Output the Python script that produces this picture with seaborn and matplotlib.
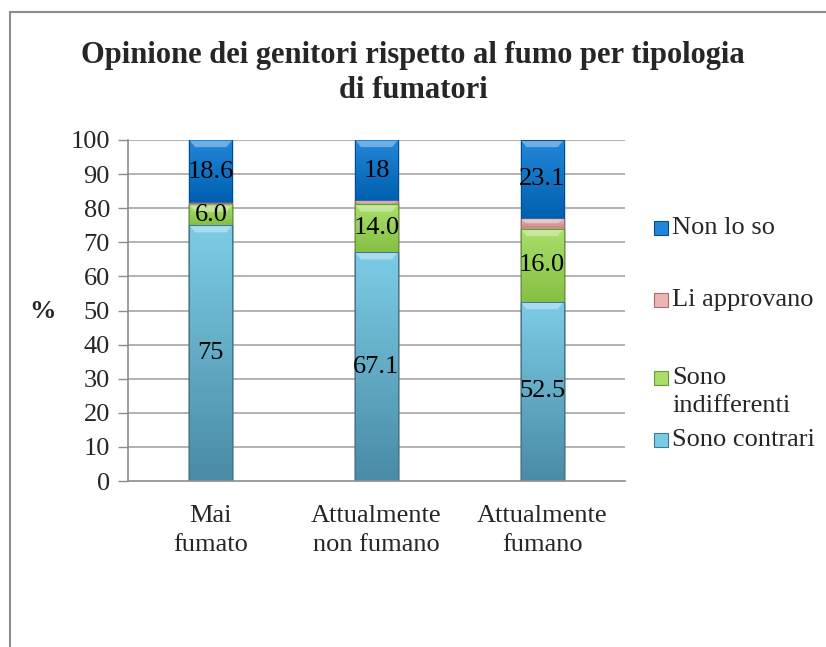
import numpy as np
import seaborn as sns
import matplotlib.pyplot as plt
from matplotlib.colors import LinearSegmentedColormap
from matplotlib.patches import Rectangle, Polygon
from matplotlib.lines import Line2D

# dati
categorie = ["Mai\nfumato", "Attualmente\nnon fumano", "Attualmente\nfumano"]
serie = ["Sono contrari", "Sono indifferenti", "Li approvano", "Non lo so"]
contrari = [75, 67.1, 52.5]
indifferenti = [6.0, 14.0, 21.4]
approvano = [0.4, 0.9, 3.0]
non_lo_so = [18.6, 18.0, 23.1]
# etichette come stampate sul grafico
etich_contrari = ["75", "67.1", "52.5"]
etich_indifferenti = ["6.0", "14.0", "16.0"]
etich_approvano = ["", "", ""]
etich_non_lo_so = ["18.6", "18", "23.1"]
yticks = list(range(0, 101, 10))

valori = [contrari, indifferenti, approvano, non_lo_so]
etichette = [etich_contrari, etich_indifferenti, etich_approvano, etich_non_lo_so]
base = ["#5fa9c6", "#96cf52", "#d49a98", "#0a6cc2"]
top_c = ["#7ccbe6", "#a8de6a", "#e8b6b4", "#2286d8"]
bot_c = ["#4a8ca6", "#86c043", "#c98886", "#0060b0"]
edge = ["#3f7890", "#6c9a33", "#a86e6c", "#004c8c"]

sns.set_theme(style="white")
plt.rcParams['font.family'] = ['Liberation Serif', 'DejaVu Serif']

W, H = 826, 647
FS = 19
fig = plt.figure(figsize=(W / 100, H / 100), dpi=100)
ax = fig.add_axes([128 / W, 1 - 481 / H, (625 - 128) / W, (481 - 140) / H])

# somme cumulate per impilare
bottoms, tops = [], []
cum = np.zeros(len(categorie))
for v in valori:
    bottoms.append(cum.copy())
    cum = cum + np.array(v)
    tops.append(cum.copy())

larg = 0.26
for i in reversed(range(len(serie))):
    sns.barplot(x=categorie, y=tops[i], color=base[i], width=larg, ax=ax,
                saturation=1, edgecolor=edge[i], linewidth=1.0, zorder=2)

# sfumatura e smusso stile Excel
for i in range(len(serie)):
    cmap = LinearSegmentedColormap.from_list("g%d" % i, [bot_c[i], top_c[i]])
    grad = np.linspace(0, 1, 64)[:, None]
    for j in range(len(categorie)):
        y0, y1 = bottoms[i][j], tops[i][j]
        if y1 - y0 < 0.8:
            continue
        x0, x1 = j - larg / 2 + 0.006, j + larg / 2 - 0.006
        ax.imshow(grad, extent=(x0, x1, y0 + 0.3, y1 - 0.3), origin="lower",
                  cmap=cmap, aspect="auto", zorder=3)
        h = min(1.8, (y1 - y0) / 3)
        d = 0.03
        ax.add_patch(Polygon([(x0, y1 - 0.3), (x1, y1 - 0.3), (x1 - d, y1 - 0.3 - h),
                              (x0 + d, y1 - 0.3 - h)], closed=True,
                             facecolor="white", alpha=0.35, lw=0, zorder=4))
        testo = etichette[i][j]
        if testo:
            ax.text(j, (y0 + y1) / 2, testo, ha="center", va="center",
                    fontsize=FS, color="black", zorder=5)

ax.set_xlim(-0.5, 2.5)
ax.set_ylim(0, 100)
ax.set_yticks(yticks)
ax.set_yticklabels([str(t) for t in yticks], fontsize=FS)
ax.set_xticks(range(len(categorie)))
ax.set_xticklabels(categorie, fontsize=FS, linespacing=1.45)
ax.tick_params(axis="y", direction="out", length=7, width=1, color="#8c8c8c", pad=6,
               left=True)
ax.tick_params(axis="x", length=0, pad=17)
for t in yticks[1:]:
    ax.axhline(t, color="#a6a6a6", lw=1.2, zorder=1)
for s in ["top", "right"]:
    ax.spines[s].set_visible(False)
for s in ["left", "bottom"]:
    ax.spines[s].set_color("#8c8c8c")
    ax.spines[s].set_linewidth(1.2)
ax.set_xlabel("")
ax.set_ylabel("")

# bordo dell'area grafico
fig.add_artist(Line2D([10 / W, 10 / W], [0, 1 - 12 / H], color="#8c8c8c", lw=1.5))
fig.add_artist(Line2D([10 / W, 1], [1 - 12 / H, 1 - 12 / H], color="#8c8c8c", lw=1.5))

fig.text(413 / W, 1 - 73 / H, "Opinione dei genitori rispetto al fumo per tipologia\ndi fumatori",
         ha="center", va="center", fontsize=22, fontweight="bold", linespacing=1.3)
fig.text(42 / W, 1 - 312 / H, "%", ha="center", va="center", fontsize=FS, fontweight="bold")

# legenda manuale
leg_y = {"Non lo so": 228, "Li approvano": 300, "Sono indifferenti": 378, "Sono contrari": 440}
leg_txt = {"Non lo so": "Non lo so", "Li approvano": "Li approvano",
           "Sono indifferenti": "Sono\nindifferenti", "Sono contrari": "Sono contrari"}
for i, nome in enumerate(serie):
    yy = leg_y[nome]
    fig.add_artist(Rectangle((654 / W, 1 - (yy + 7) / H), 14 / W, 14 / H,
                             facecolor=top_c[i], edgecolor=edge[i], lw=0.8))
    ty = yy if "\n" not in leg_txt[nome] else yy + 14
    fig.text(672 / W, 1 - ty / H, leg_txt[nome], ha="left", va="center",
             fontsize=FS, linespacing=1.3)

fig.savefig("out.png", dpi=100)
